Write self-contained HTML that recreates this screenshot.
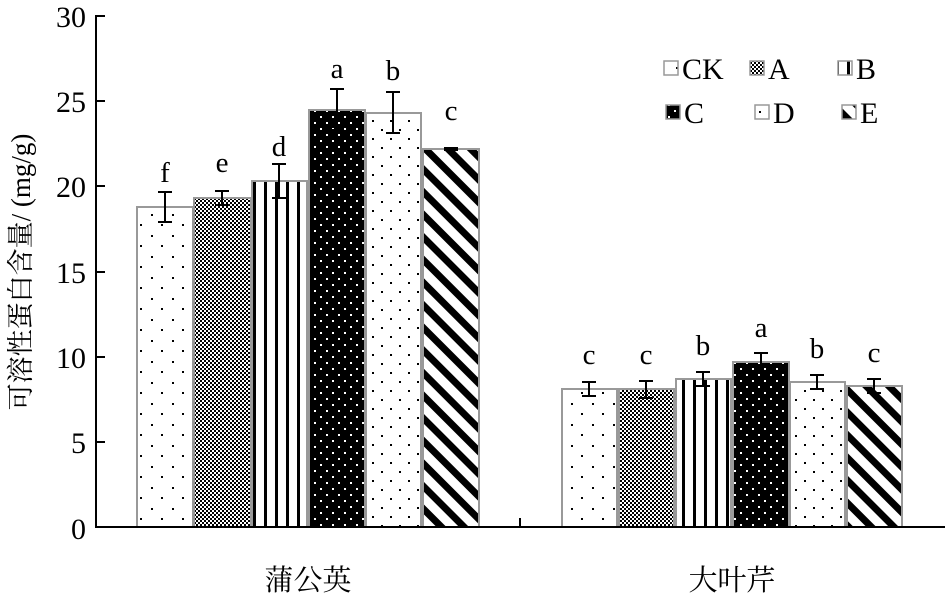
<!DOCTYPE html>
<html><head><meta charset="utf-8"><style>body{margin:0;background:#fff}</style></head><body>
<svg width="945" height="597" xmlns="http://www.w3.org/2000/svg" font-family="Liberation Serif, serif">
<defs>
<pattern id="pCK" width="21" height="21" patternUnits="userSpaceOnUse"><rect width="21" height="21" fill="#fff"/><rect x="4" y="4" width="2" height="2" fill="#000"/><rect x="14" y="14" width="2" height="2" fill="#000"/></pattern>
<pattern id="pA" width="4" height="4" patternUnits="userSpaceOnUse"><rect width="4" height="4" fill="#fff"/><rect width="2" height="2" fill="#000"/><rect x="2" y="2" width="2" height="2" fill="#000"/></pattern>
<pattern id="pB" width="11" height="10" patternUnits="userSpaceOnUse"><rect width="11" height="10" fill="#fff"/><rect x="0" width="3" height="10" fill="#000"/></pattern>
<pattern id="pC" width="12" height="12" patternUnits="userSpaceOnUse"><rect width="12" height="12" fill="#000"/><rect x="2" y="2" width="2" height="2" fill="#fff"/><rect x="8" y="8" width="2" height="2" fill="#fff"/></pattern>
<pattern id="pD" width="18" height="18" patternUnits="userSpaceOnUse"><rect width="18" height="18" fill="#fff"/><rect x="3" y="3" width="2" height="2" fill="#000"/><rect x="12" y="12" width="2" height="2" fill="#000"/></pattern>
<pattern id="pE" width="16" height="16" patternUnits="userSpaceOnUse" patternTransform="rotate(-45)"><rect width="16" height="16" fill="#fff"/><rect width="7" height="16" fill="#000"/></pattern>
</defs>
<g stroke="#999" stroke-width="2">
<rect x="137" y="207" width="56" height="320" fill="url(#pCK)"/>
<rect x="194" y="198" width="57" height="329" fill="url(#pA)"/>
<rect x="252" y="181" width="55" height="346" fill="url(#pB)"/>
<rect x="309" y="110" width="56" height="417" fill="url(#pC)"/>
<rect x="366" y="113" width="55" height="414" fill="url(#pD)"/>
<rect x="423" y="149" width="56" height="378" fill="url(#pE)"/>
<rect x="562" y="389" width="55" height="138" fill="url(#pCK)"/>
<rect x="619" y="389" width="55" height="138" fill="url(#pA)"/>
<rect x="676" y="379" width="55" height="148" fill="url(#pB)"/>
<rect x="733" y="362" width="56" height="165" fill="url(#pC)"/>
<rect x="790" y="382" width="55" height="145" fill="url(#pD)"/>
<rect x="847" y="386" width="55" height="141" fill="url(#pE)"/>
</g>
<g stroke="#000" stroke-width="2" fill="none">
<path d="M165 192V222M158 192H172M158 222H172"/>
<path d="M222 191V205M215 191H229M215 205H229"/>
<path d="M279 164V198M272 164H286M272 198H286"/>
<path d="M337 89V130M330 89H344M330 130H344"/>
<path d="M393 92V133M386 92H400M386 133H400"/>
<path d="M451 148V150M444 148H458M444 150H458"/>
<path d="M589 382V396M582 382H596M582 396H596"/>
<path d="M646 381V398M639 381H653M639 398H653"/>
<path d="M703 372V386M696 372H710M696 386H710"/>
<path d="M761 353V371M754 353H768M754 371H768"/>
<path d="M817 375V389M810 375H824M810 389H824"/>
<path d="M874 379V393M867 379H881M867 393H881"/>
</g>
<g stroke="#000" stroke-width="2">
<line x1="96" y1="15" x2="96" y2="528"/>
<line x1="95" y1="527" x2="945" y2="527"/>
<line x1="96" y1="16" x2="105" y2="16"/><line x1="96" y1="101" x2="105" y2="101"/>
<line x1="96" y1="186" x2="105" y2="186"/><line x1="96" y1="272" x2="105" y2="272"/>
<line x1="96" y1="357" x2="105" y2="357"/><line x1="96" y1="442" x2="105" y2="442"/>
<line x1="520" y1="518" x2="520" y2="527"/>
</g>
<g font-size="30" text-anchor="end">
<text x="86" y="27">30</text><text x="86" y="112">25</text><text x="86" y="197">20</text>
<text x="86" y="283">15</text><text x="86" y="368">10</text><text x="86" y="453">5</text><text x="86" y="539">0</text>
</g>
<g font-size="29" text-anchor="middle">
<text x="165" y="182">f</text><text x="222" y="172">e</text><text x="279" y="156">d</text>
<text x="337" y="78">a</text><text x="393" y="80">b</text><text x="451" y="120">c</text>
<text x="589" y="364">c</text><text x="646" y="364">c</text><text x="703" y="355">b</text>
<text x="761" y="337">a</text><text x="817" y="358">b</text><text x="874" y="362">c</text>
</g>
<text transform="translate(30,272) rotate(-90)" font-size="27" text-anchor="middle" font-family="Liberation Serif, Noto Serif CJK SC, serif">可溶性蛋白含量/ (mg/g)</text>
<text x="308" y="590" font-size="29" text-anchor="middle" font-family="Noto Serif CJK SC, serif">蒲公英</text>
<text x="732" y="590" font-size="29" text-anchor="middle" font-family="Noto Serif CJK SC, serif">大叶芹</text>
<g stroke="#999" stroke-width="1.5">
<rect x="664" y="61" width="14" height="14" fill="url(#pCK)"/>
<rect x="750" y="61" width="14" height="14" fill="url(#pA)"/>
<rect x="838" y="61" width="14" height="14" fill="url(#pB)"/>
<rect x="666" y="105" width="14" height="14" fill="url(#pC)"/>
<rect x="755" y="105" width="14" height="14" fill="url(#pD)"/>
<rect x="842" y="105" width="14" height="14" fill="url(#pE)"/>
</g>
<g font-size="30">
<text x="682" y="79">CK</text><text x="768" y="79">A</text><text x="856" y="79">B</text>
<text x="684" y="123">C</text><text x="773" y="123">D</text><text x="860" y="123">E</text>
</g>
</svg>
</body></html>
